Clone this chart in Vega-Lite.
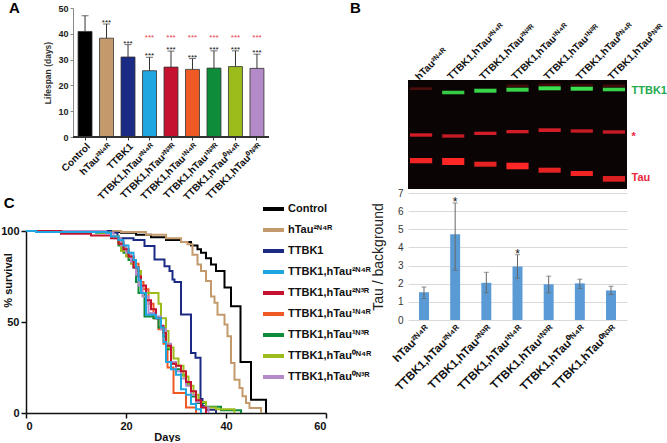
{
  "$schema": "https://vega.github.io/schema/vega-lite/v6.json",
  "background": "white",
  "padding": {"left": 0, "top": 0, "right": 0, "bottom": 0},
  "config": {"font": "Liberation Sans", "view": {"stroke": null}},
  "datasets": {
    "life": [
      {"g": "Control", "v": 40.9, "e": 47.0, "s": "", "r": ""},
      {"g": "hTau²ᴺ⁴ᴿ", "v": 38.3, "e": 43.8, "s": "***", "r": ""},
      {"g": "TTBK1", "v": 31.0, "e": 35.8, "s": "***", "r": ""},
      {"g": "TTBK1,hTau²ᴺ⁴ᴿ", "v": 25.7, "e": 30.9, "s": "***", "r": "***"},
      {"g": "TTBK1,hTau²ᴺ³ᴿ", "v": 27.1, "e": 33.3, "s": "***", "r": "***"},
      {"g": "TTBK1,hTau¹ᴺ⁴ᴿ", "v": 26.2, "e": 30.4, "s": "***", "r": "***"},
      {"g": "TTBK1,hTau¹ᴺ³ᴿ", "v": 26.7, "e": 33.4, "s": "***", "r": "***"},
      {"g": "TTBK1,hTau⁰ᴺ⁴ᴿ", "v": 27.3, "e": 33.4, "s": "***", "r": "***"},
      {"g": "TTBK1,hTau⁰ᴺ³ᴿ", "v": 26.6, "e": 32.1, "s": "***", "r": "***"}
    ],
    "surv": [
      {"g": "Control", "d": [0,17,19,22,25,28,31,33,34.3,35,36,37,38,39.7,41,42.9,45,48], "p": [100,99.5,99,98,96.5,95,94,92,90,88,85,81.6,78,69,58.7,28,7.3,0]},
      {"g": "hTau²ᴺ⁴ᴿ", "d": [0,19,24,28,31,32.3,33.3,34.3,35,36,37,37.7,38.3,39.7,40.3,41,41.7,42.7,43.3,44,44.7,47], "p": [100,99.5,98,96,94,92.7,87,81.6,78,72.5,64,60.6,54,48.6,42.2,27.5,18.3,13.8,9.2,5.5,2.8,0]},
      {"g": "TTBK1", "d": [0,17,18.3,21.5,23.7,25.7,27.7,28.7,29.3,29.7,31,33,33.9,34.9,35.3,36,38], "p": [100,99,96,95,91.7,84.4,80.7,78,73.4,72,54.1,33,30.3,7.7,3.7,1.8,0]},
      {"g": "TTBK1,hTau¹ᴺ⁴ᴿ", "d": [0,15,17,18.5,19.5,20.5,21.5,22.5,23,23.5,24.5,25.5,26.5,27.5,28.3,29.5,32,34], "p": [100,99,97,94,90,86,82,78,72,68,60,52,46,38,25,11,3,0]},
      {"g": "TTBK1,hTau¹ᴺ³ᴿ", "d": [0,14,17,18.5,19.5,20.5,21.5,22,22.5,23.7,25.5,26.5,27.5,28,29,30,31,32,33,34,36,39,43], "p": [100,99,97,92,88,84,80,72,66,53,52,47,42,35,27,24,21,16,9,5.5,3.5,1.5,0]},
      {"g": "TTBK1,hTau⁰ᴺ⁴ᴿ", "d": [0,15,17,18.5,19,20,21,22,23,26.5,27,28,28.5,29.5,30.5,31.5,32.5,33.5,34.5,36,38,41.7], "p": [100,99,97,93,89,86,82,78,66,60,52,45,36,30,26,20,15,10,6,3,2,0]},
      {"g": "TTBK1,hTau⁰ᴺ³ᴿ", "d": [0,16,17.5,19,20,21,22,22.5,23.3,24.5,26,27,28,29,30,31,32,33,34,35,36.5], "p": [100,99,96,92,88,83,76,70,64,55,53,46,38,28,23,19,15,10,6,3,0]},
      {"g": "TTBK1,hTau²ᴺ³ᴿ", "d": [0,7,13,17,18.5,19.5,20.5,21.5,22.5,23,24,25,26,27,27.5,28,29,30,31,32,33,34,35,36], "p": [100,98.5,97.5,96,93,90,86,80,75,70,62,57,52,48,44,37,27,26,23,17,12,7,3,0]},
      {"g": "TTBK1,hTau²ᴺ⁴ᴿ", "d": [0,2,16,17,18.5,19.5,20.5,21.5,22,22.5,23,24,26,27,27.5,28,29,30,31,32,33,34,35], "p": [100,99.5,99,97,95,92,88,84,80,73,66,54,52,47,39,28,24,21,13,10,5,2,0]}
    ],
    "blot": [
      {"lane": "hTau²ᴺ⁴ᴿ", "band": "faint", "top": 7.3, "bot": 10, "i": 0.4},
      {"lane": "hTau²ᴺ⁴ᴿ", "band": "star", "top": 53.3, "bot": 56.7, "i": 0.9},
      {"lane": "hTau²ᴺ⁴ᴿ", "band": "Tau", "top": 78, "bot": 83.3, "i": 0.95},
      {"lane": "TTBK1,hTau²ᴺ⁴ᴿ", "band": "TTBK1", "top": 10.7, "bot": 14.3, "i": 0.9},
      {"lane": "TTBK1,hTau²ᴺ⁴ᴿ", "band": "star", "top": 54.3, "bot": 57.7, "i": 0.85},
      {"lane": "TTBK1,hTau²ᴺ⁴ᴿ", "band": "Tau", "top": 78, "bot": 85, "i": 1},
      {"lane": "TTBK1,hTau²ᴺ³ᴿ", "band": "TTBK1", "top": 8.7, "bot": 12.7, "i": 0.95},
      {"lane": "TTBK1,hTau²ᴺ³ᴿ", "band": "star", "top": 51.7, "bot": 55, "i": 0.9},
      {"lane": "TTBK1,hTau²ᴺ³ᴿ", "band": "Tau", "top": 81.7, "bot": 86.7, "i": 0.9},
      {"lane": "TTBK1,hTau¹ᴺ⁴ᴿ", "band": "faint", "top": 4.5, "bot": 7, "i": 0.35},
      {"lane": "TTBK1,hTau¹ᴺ⁴ᴿ", "band": "TTBK1", "top": 7.7, "bot": 11.7, "i": 0.95},
      {"lane": "TTBK1,hTau¹ᴺ⁴ᴿ", "band": "star", "top": 50, "bot": 53.3, "i": 0.9},
      {"lane": "TTBK1,hTau¹ᴺ⁴ᴿ", "band": "Tau", "top": 82.7, "bot": 89.3, "i": 1},
      {"lane": "TTBK1,hTau¹ᴺ³ᴿ", "band": "faint", "top": 3.5, "bot": 6, "i": 0.35},
      {"lane": "TTBK1,hTau¹ᴺ³ᴿ", "band": "TTBK1", "top": 6.3, "bot": 10.3, "i": 1},
      {"lane": "TTBK1,hTau¹ᴺ³ᴿ", "band": "star", "top": 48.3, "bot": 52, "i": 0.9},
      {"lane": "TTBK1,hTau¹ᴺ³ᴿ", "band": "Tau", "top": 87.7, "bot": 92.7, "i": 0.9},
      {"lane": "TTBK1,hTau⁰ᴺ⁴ᴿ", "band": "faint", "top": 3.8, "bot": 6.3, "i": 0.3},
      {"lane": "TTBK1,hTau⁰ᴺ⁴ᴿ", "band": "TTBK1", "top": 6.7, "bot": 10.7, "i": 1},
      {"lane": "TTBK1,hTau⁰ᴺ⁴ᴿ", "band": "star", "top": 49.3, "bot": 52.7, "i": 0.85},
      {"lane": "TTBK1,hTau⁰ᴺ⁴ᴿ", "band": "Tau", "top": 91, "bot": 96, "i": 0.95},
      {"lane": "TTBK1,hTau⁰ᴺ³ᴿ", "band": "faint", "top": 4.5, "bot": 7, "i": 0.35},
      {"lane": "TTBK1,hTau⁰ᴺ³ᴿ", "band": "TTBK1", "top": 7.7, "bot": 11.3, "i": 0.95},
      {"lane": "TTBK1,hTau⁰ᴺ³ᴿ", "band": "star", "top": 50.3, "bot": 53.7, "i": 0.85},
      {"lane": "TTBK1,hTau⁰ᴺ³ᴿ", "band": "Tau", "top": 96, "bot": 101.7, "i": 0.85}
    ],
    "quant": [
      {"g": "hTau²ᴺ⁴ᴿ", "v": 1.53, "lo": 1.18, "hi": 1.82, "s": ""},
      {"g": "TTBK1,hTau²ᴺ⁴ᴿ", "v": 4.72, "lo": 2.75, "hi": 6.45, "s": "*"},
      {"g": "TTBK1,hTau²ᴺ³ᴿ", "v": 2.05, "lo": 1.5, "hi": 2.63, "s": ""},
      {"g": "TTBK1,hTau¹ᴺ⁴ᴿ", "v": 2.95, "lo": 2.3, "hi": 3.6, "s": "*"},
      {"g": "TTBK1,hTau¹ᴺ³ᴿ", "v": 1.97, "lo": 1.5, "hi": 2.42, "s": ""},
      {"g": "TTBK1,hTau⁰ᴺ⁴ᴿ", "v": 2.02, "lo": 1.74, "hi": 2.25, "s": ""},
      {"g": "TTBK1,hTau⁰ᴺ³ᴿ", "v": 1.63, "lo": 1.4, "hi": 1.86, "s": ""}
    ]
  },
  "spacing": -22,
  "resolve": {"scale": {"color": "independent", "opacity": "independent"}, "legend": {"color": "independent", "opacity": "independent"}},
  "hconcat": [
    {
      "spacing": -7,
      "resolve": {"scale": {"color": "independent", "opacity": "independent"}, "legend": {"color": "independent", "opacity": "independent"}},
      "vconcat": [
        {
          "width": 243,
          "height": 129,
          "title": {"text": "A", "anchor": "start", "frame": "bounds", "fontSize": 15, "fontWeight": "bold", "color": "#000", "dx": -17, "offset": -11.5},
          "data": {"name": "life"},
          "encoding": {
            "x": {"field": "g", "type": "nominal", "sort": null,
              "scale": {"range": [47, 243], "paddingInner": 0.35, "paddingOuter": 0.235},
              "axis": {"title": null, "labelAngle": -45, "labelFontSize": 10, "labelFontWeight": "bold", "labelColor": "#111", "domain": false, "tickColor": "#333", "tickSize": 3, "labelPadding": 1, "labelLimit": 200}}
          },
          "layer": [
            {
              "mark": {"type": "bar", "stroke": "#333", "strokeWidth": 0.8},
              "encoding": {
                "y": {"field": "v", "type": "quantitative", "scale": {"domain": [0, 50], "nice": false},
                  "axis": {"values": [0, 10, 20, 30, 40, 50], "labelOverlap": false, "offset": -47, "title": "Lifespan (days)", "titleFontSize": 8.5, "titleFontWeight": "bold", "titleColor": "#333", "labelFontSize": 9, "labelFontWeight": "bold", "labelColor": "#222", "domainColor": "#888", "tickColor": "#888", "tickSize": 3, "grid": false, "titlePadding": 5, "labelPadding": 2}},
                "color": {"field": "g", "type": "nominal", "legend": null,
                  "scale": {"domain": ["Control", "hTau²ᴺ⁴ᴿ", "TTBK1", "TTBK1,hTau²ᴺ⁴ᴿ", "TTBK1,hTau²ᴺ³ᴿ", "TTBK1,hTau¹ᴺ⁴ᴿ", "TTBK1,hTau¹ᴺ³ᴿ", "TTBK1,hTau⁰ᴺ⁴ᴿ", "TTBK1,hTau⁰ᴺ³ᴿ"],
                    "range": ["#000000", "#c49a6c", "#1b2a84", "#1fa5e0", "#c4122f", "#ef5a24", "#0e8c3a", "#9cbc1c", "#b48bc8"]}}
              }
            },
            {
              "mark": {"type": "rule", "color": "#333", "strokeWidth": 1},
              "encoding": {
                "x": {"datum": "Control", "bandPosition": -0.36},
                "x2": {"datum": "TTBK1,hTau⁰ᴺ³ᴿ", "bandPosition": 1.36},
                "y": {"datum": 0, "type": "quantitative",
                  "axis": {"values": [0, 10, 20, 30, 40, 50], "labelOverlap": false, "offset": -47, "title": "Lifespan (days)", "titleFontSize": 8.5, "titleFontWeight": "bold", "titleColor": "#333", "labelFontSize": 9, "labelFontWeight": "bold", "labelColor": "#222", "domainColor": "#888", "tickColor": "#888", "tickSize": 3, "grid": false, "titlePadding": 5, "labelPadding": 2}}
              }
            },
            {
              "mark": {"type": "rule", "color": "#333", "strokeWidth": 1},
              "encoding": {
                "y": {"field": "v", "type": "quantitative",
                  "axis": {"values": [0, 10, 20, 30, 40, 50], "labelOverlap": false, "offset": -47, "title": "Lifespan (days)", "titleFontSize": 8.5, "titleFontWeight": "bold", "titleColor": "#333", "labelFontSize": 9, "labelFontWeight": "bold", "labelColor": "#222", "domainColor": "#888", "tickColor": "#888", "tickSize": 3, "grid": false, "titlePadding": 5, "labelPadding": 2}},
                "y2": {"field": "e"}
              }
            },
            {
              "mark": {"type": "tick", "color": "#333", "thickness": 1, "size": 7},
              "encoding": {
                "y": {"field": "e", "type": "quantitative",
                  "axis": {"values": [0, 10, 20, 30, 40, 50], "labelOverlap": false, "offset": -47, "title": "Lifespan (days)", "titleFontSize": 8.5, "titleFontWeight": "bold", "titleColor": "#333", "labelFontSize": 9, "labelFontWeight": "bold", "labelColor": "#222", "domainColor": "#888", "tickColor": "#888", "tickSize": 3, "grid": false, "titlePadding": 5, "labelPadding": 2}}
              }
            },
            {
              "mark": {"type": "text", "baseline": "bottom", "fontSize": 8, "dy": 3, "color": "#111"},
              "encoding": {
                "y": {"field": "e", "type": "quantitative",
                  "axis": {"values": [0, 10, 20, 30, 40, 50], "labelOverlap": false, "offset": -47, "title": "Lifespan (days)", "titleFontSize": 8.5, "titleFontWeight": "bold", "titleColor": "#333", "labelFontSize": 9, "labelFontWeight": "bold", "labelColor": "#222", "domainColor": "#888", "tickColor": "#888", "tickSize": 3, "grid": false, "titlePadding": 5, "labelPadding": 2}},
                "text": {"field": "s"}
              }
            },
            {
              "transform": [{"filter": "datum.r != ''"}],
              "mark": {"type": "text", "baseline": "middle", "fontSize": 8, "color": "#e8404a"},
              "encoding": {
                "y": {"datum": 38.5, "type": "quantitative",
                  "axis": {"values": [0, 10, 20, 30, 40, 50], "labelOverlap": false, "offset": -47, "title": "Lifespan (days)", "titleFontSize": 8.5, "titleFontWeight": "bold", "titleColor": "#333", "labelFontSize": 9, "labelFontWeight": "bold", "labelColor": "#222", "domainColor": "#888", "tickColor": "#888", "tickSize": 3, "grid": false, "titlePadding": 5, "labelPadding": 2}},
                "text": {"field": "r"}
              }
            }
          ]
        },
        {
          "width": 300,
          "height": 182,
          "title": {"text": "C", "anchor": "start", "frame": "bounds", "fontSize": 15, "fontWeight": "bold", "color": "#000", "dx": 3, "offset": -14},
          "data": {"name": "surv"},
          "transform": [{"flatten": ["d", "p"]}],
          "mark": {"type": "line", "interpolate": "step-after", "strokeWidth": 2},
          "encoding": {
            "x": {"field": "d", "type": "quantitative", "scale": {"domain": [0, 60], "nice": false},
              "axis": {"values": [0, 20, 40, 60], "title": "Days", "titleFontSize": 11, "titleFontWeight": "bold", "titleColor": "#111", "titleX": 141, "titlePadding": 0, "labelFontSize": 11, "labelFontWeight": "bold", "labelColor": "#111", "domainColor": "#111", "domainWidth": 1.5, "tickColor": "#111", "tickWidth": 1.5, "tickSize": 5, "grid": false}},
            "y": {"field": "p", "type": "quantitative", "scale": {"domain": [0, 100], "nice": false},
              "axis": {"values": [0, 50, 100], "title": "% survival", "titleFontSize": 11, "titleFontWeight": "bold", "titleColor": "#111", "titleX": -13, "titleY": 49, "labelFontSize": 11, "labelFontWeight": "bold", "labelColor": "#111", "labelPadding": 2, "domainColor": "#111", "domainWidth": 1.5, "tickColor": "#111", "tickWidth": 1.5, "tickSize": 5, "grid": false}},
            "color": {"field": "g", "type": "nominal",
              "scale": {"domain": ["Control", "hTau²ᴺ⁴ᴿ", "TTBK1", "TTBK1,hTau²ᴺ⁴ᴿ", "TTBK1,hTau²ᴺ³ᴿ", "TTBK1,hTau¹ᴺ⁴ᴿ", "TTBK1,hTau¹ᴺ³ᴿ", "TTBK1,hTau⁰ᴺ⁴ᴿ", "TTBK1,hTau⁰ᴺ³ᴿ"],
                "range": ["#000000", "#c49a6c", "#1b2a84", "#1fa5e0", "#c4122f", "#ef5a24", "#0e8c3a", "#9cbc1c", "#b48bc8"]},
              "legend": {"orient": "none", "legendX": 235, "legendY": -34.5, "title": null, "symbolType": "stroke", "symbolSize": 441, "symbolStrokeWidth": 4, "labelFontSize": 11, "labelFontWeight": "bold", "labelColor": "#111", "rowPadding": 0, "labelOffset": 2, "labelLimit": 200}}
          }
        }
      ]
    },
    {
      "spacing": -1,
      "resolve": {"scale": {"color": "independent", "opacity": "independent"}, "legend": {"color": "independent", "opacity": "independent"}},
      "vconcat": [
        {
          "width": 219,
          "height": 13,
          "data": {"values": []},
          "mark": {"type": "point", "opacity": 0},
          "title": {"text": "B", "anchor": "start", "frame": "bounds", "fontSize": 15, "fontWeight": "bold", "color": "#000", "dx": -58, "offset": -8}
        },
        {
          "width": 219,
          "height": 109,
          "view": {"fill": "#0a0404", "stroke": null},
          "data": {"name": "blot"},
          "mark": {"type": "rect"},
          "encoding": {
            "x": {"field": "lane", "type": "nominal", "sort": null,
              "scale": {"paddingInner": 0.31, "paddingOuter": 0.063},
              "axis": {"orient": "top", "title": null, "labelAngle": -45, "labelAlign": "left", "labelBaseline": "middle", "labelFontSize": 10, "labelFontWeight": "bold", "labelColor": "#111", "labelOffset": -4, "domain": false, "ticks": false, "labelPadding": 2, "labelLimit": 200}},
            "y": {"field": "top", "type": "quantitative", "scale": {"domain": [0, 109], "reverse": true, "nice": false},
              "axis": {"orient": "right", "title": null, "values": [10, 56, 97], "labelExpr": "datum.value < 30 ? 'TTBK1' : datum.value < 70 ? '*' : 'Tau'", "labelColor": {"condition": {"test": "datum.value < 30", "value": "#22aa4d"}, "value": "#e8283a"}, "labelFontSize": 11, "labelFontWeight": "bold", "labelPadding": 4, "domain": false, "ticks": false, "grid": false}},
            "y2": {"field": "bot"},
            "color": {"field": "band", "type": "nominal", "legend": null,
              "scale": {"domain": ["TTBK1", "star", "Tau", "faint"], "range": ["#3be04e", "#e8202a", "#ff2626", "#b01818"]}},
            "opacity": {"field": "i", "type": "quantitative", "legend": null, "scale": {"domain": [0, 1], "range": [0, 1]}}
          }
        },
        {
          "width": 219,
          "height": 127,
          "data": {"name": "quant"},
          "encoding": {
            "x": {"field": "g", "type": "nominal", "sort": null,
              "scale": {"paddingInner": 0.68, "paddingOuter": 0.353},
              "axis": {"title": null, "labelAngle": -45, "labelFontSize": 11.5, "labelFontWeight": "bold", "labelColor": "#111", "domain": false, "ticks": false, "labelPadding": 3, "labelLimit": 200}}
          },
          "layer": [
            {
              "mark": {"type": "bar", "color": "#5b9bd5"},
              "encoding": {
                "y": {"field": "v", "type": "quantitative", "scale": {"domain": [0, 7], "nice": false},
                  "axis": {"title": "Tau / background", "values": [0, 1, 2, 3, 4, 5, 6, 7], "labelOverlap": false, "titleFontSize": 14, "titleFontWeight": "normal", "titleColor": "#222", "labelFontSize": 10, "labelColor": "#333", "domain": false, "ticks": false, "gridColor": "#d9d9d9", "labelPadding": 5, "titlePadding": 12}}
              }
            },
            {
              "mark": {"type": "rule", "color": "#666", "strokeWidth": 1},
              "encoding": {
                "y": {"field": "lo", "type": "quantitative",
                  "axis": {"title": "Tau / background", "values": [0, 1, 2, 3, 4, 5, 6, 7], "labelOverlap": false, "titleFontSize": 14, "titleFontWeight": "normal", "titleColor": "#222", "labelFontSize": 10, "labelColor": "#333", "domain": false, "ticks": false, "gridColor": "#d9d9d9", "labelPadding": 5, "titlePadding": 12}},
                "y2": {"field": "hi"}
              }
            },
            {
              "mark": {"type": "tick", "color": "#666", "thickness": 1, "size": 5},
              "encoding": {
                "y": {"field": "lo", "type": "quantitative",
                  "axis": {"title": "Tau / background", "values": [0, 1, 2, 3, 4, 5, 6, 7], "labelOverlap": false, "titleFontSize": 14, "titleFontWeight": "normal", "titleColor": "#222", "labelFontSize": 10, "labelColor": "#333", "domain": false, "ticks": false, "gridColor": "#d9d9d9", "labelPadding": 5, "titlePadding": 12}}
              }
            },
            {
              "mark": {"type": "tick", "color": "#666", "thickness": 1, "size": 5},
              "encoding": {
                "y": {"field": "hi", "type": "quantitative",
                  "axis": {"title": "Tau / background", "values": [0, 1, 2, 3, 4, 5, 6, 7], "labelOverlap": false, "titleFontSize": 14, "titleFontWeight": "normal", "titleColor": "#222", "labelFontSize": 10, "labelColor": "#333", "domain": false, "ticks": false, "gridColor": "#d9d9d9", "labelPadding": 5, "titlePadding": 12}}
              }
            },
            {
              "mark": {"type": "text", "baseline": "bottom", "fontSize": 12, "dy": 6, "color": "#111"},
              "encoding": {
                "y": {"field": "hi", "type": "quantitative",
                  "axis": {"title": "Tau / background", "values": [0, 1, 2, 3, 4, 5, 6, 7], "labelOverlap": false, "titleFontSize": 14, "titleFontWeight": "normal", "titleColor": "#222", "labelFontSize": 10, "labelColor": "#333", "domain": false, "ticks": false, "gridColor": "#d9d9d9", "labelPadding": 5, "titlePadding": 12}},
                "text": {"field": "s"}
              }
            }
          ]
        }
      ]
    }
  ]
}
